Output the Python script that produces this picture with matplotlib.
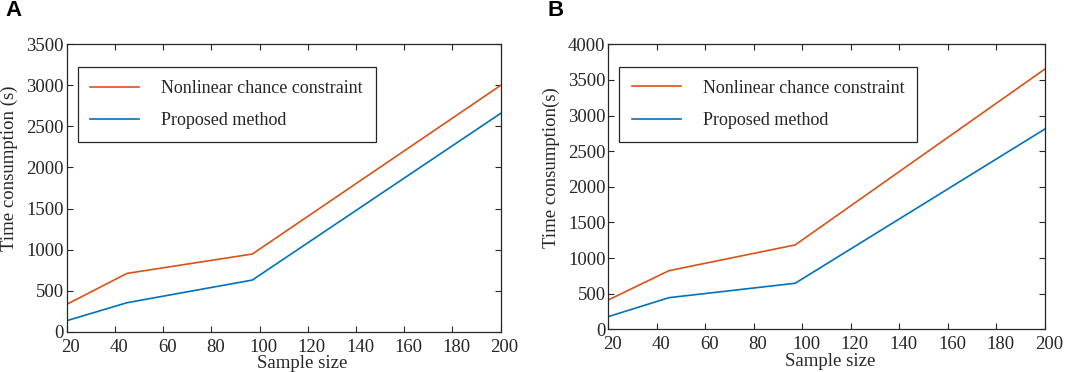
import matplotlib
matplotlib.use("Agg")
import matplotlib.pyplot as plt
import matplotlib.transforms as mtransforms

# data
sample_size = [20, 45, 97, 200]

a_nonlinear = [333, 710, 946, 3000]
a_proposed = [134, 353, 629, 2659]

b_nonlinear = [412, 823, 1184, 3654]
b_proposed = [178, 444, 646, 2812]

RED = '#D95319'
BLUE = '#0072BD'

plt.rcParams['font.family'] = ['Liberation Serif', 'DejaVu Serif']
plt.rcParams['font.size'] = 13.5

fig = plt.figure(figsize=(10.65, 3.72), dpi=100)

panels = [
    ['A', [0.0626, 0.1083, 0.4075, 0.7726], a_nonlinear, a_proposed,
     [0, 3500], 'Time consumption (s)', (-0.112, 0.57), 0.542],
    ['B', [0.5712, 0.1148, 0.4100, 0.7660], b_nonlinear, b_proposed,
     [0, 4000], 'Time consumption(s)', (-0.11, 0.566), 0.508],
]

shift = mtransforms.ScaledTranslation(4 / 100, 0, fig.dpi_scale_trans)

for letter, rect, nonlin, prop, ylim, ylab, ylab_pos, xlab_x in panels:
    ax = fig.add_axes(rect)
    ax.plot(sample_size, nonlin, color=RED, lw=1.2, label='Nonlinear chance constraint')
    ax.plot(sample_size, prop, color=BLUE, lw=1.2, label='Proposed method')

    ax.set_xlim(20, 200)
    ax.set_ylim(ylim)
    ax.set_xticks(range(20, 201, 20))
    ax.set_yticks(range(ylim[0], ylim[1] + 1, 500))
    ax.tick_params(direction='in', length=4, width=0.8, top=True, right=True,
                   colors='#262626', labelcolor='#262626', pad=2)
    ax.tick_params(axis='x', pad=5)
    for lab in ax.get_xticklabels():
        lab.set_transform(lab.get_transform() + shift)
    for sp in ax.spines.values():
        sp.set_color('#262626')
        sp.set_linewidth(0.9)

    ax.set_ylabel(ylab, color='#262626')
    ax.yaxis.set_label_coords(*ylab_pos)
    ax.set_xlabel('Sample size', color='#262626')
    ax.xaxis.set_label_coords(xlab_x, -0.082)

    leg = ax.legend(loc='upper left', bbox_to_anchor=(0.025, 0.92), fancybox=False,
                    edgecolor='#262626', framealpha=1, handlelength=2.7,
                    handletextpad=1.25, labelspacing=0.85, borderpad=0.7,
                    borderaxespad=0, fontsize=13)
    leg.get_frame().set_linewidth(0.9)
    for t in leg.get_texts():
        t.set_color('#262626')

    fig.text(rect[0] - 0.0575, 0.972, letter, fontsize=16, fontweight='bold',
             family='Liberation Sans', ha='left', va='center')

fig.savefig('out.png', dpi=100)
